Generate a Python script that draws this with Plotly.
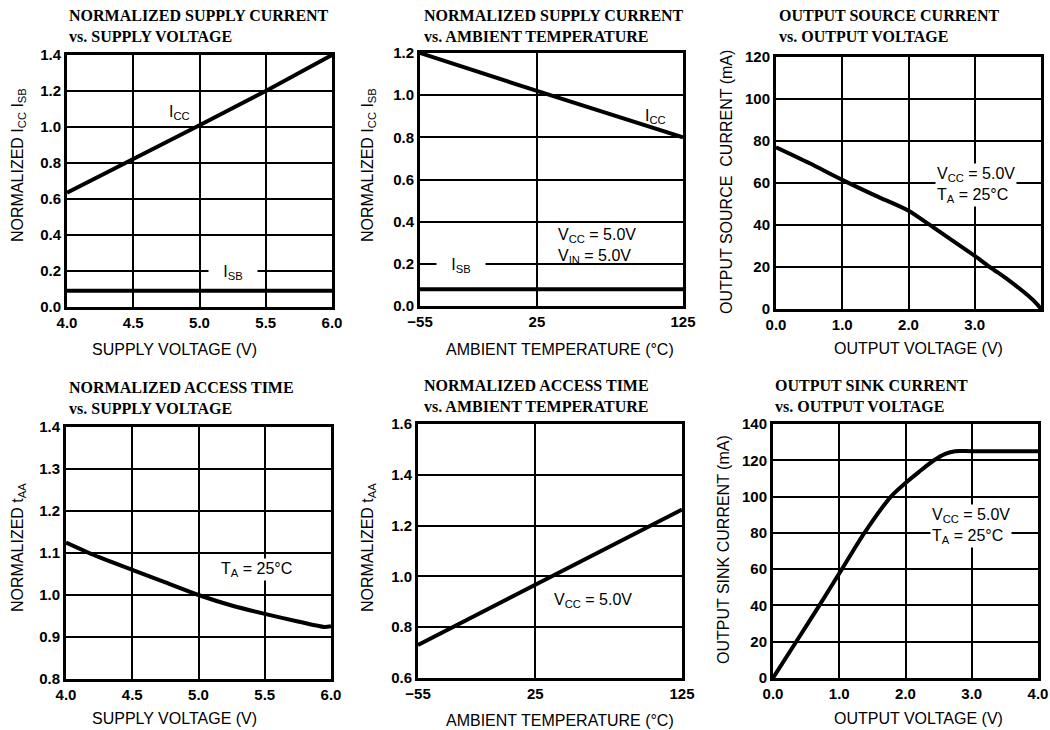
import plotly.graph_objects as go

# ---------------- data ----------------
# Panel 1: normalized supply current vs supply voltage
p1_v = [4.0, 4.5, 5.0, 5.5, 6.0]
p1_icc = [0.635, 0.82, 1.01, 1.2, 1.4]
p1_isb_v = [4.0, 6.0]
p1_isb = [0.09, 0.09]
p1_xticks = [4.0, 4.5, 5.0, 5.5, 6.0]
p1_yticks = [0.0, 0.2, 0.4, 0.6, 0.8, 1.0, 1.2, 1.4]

# Panel 2: normalized supply current vs ambient temperature
p2_t = [-55, 25, 125]
p2_icc = [1.2, 1.02, 0.8]
p2_isb_t = [-55, 125]
p2_isb = [0.08, 0.08]
p2_xticks = [-55, 25, 125]
p2_yticks = [0.0, 0.2, 0.4, 0.6, 0.8, 1.0, 1.2]

# Panel 3: output source current vs output voltage
p3_v = [0.0, 0.5, 1.0, 1.5, 2.0, 2.3, 2.6, 3.0, 3.25, 3.5, 3.8, 3.95, 4.0]
p3_i = [77, 69.5, 61.5, 54, 46.8, 40.5, 34.0, 25.3, 19.5, 14.0, 6.5, 2.0, 0.0]
p3_xticks = [0.0, 1.0, 2.0, 3.0, 4.0]
p3_yticks = [0, 20, 40, 60, 80, 100, 120]

# Panel 4: normalized access time vs supply voltage
p4_v = [4.0, 4.25, 4.5, 4.75, 5.0, 5.25, 5.5, 5.75, 5.95, 6.0]
p4_t = [1.125, 1.09, 1.06, 1.03, 1.0, 0.975, 0.955, 0.937, 0.924, 0.926]
p4_xticks = [4.0, 4.5, 5.0, 5.5, 6.0]
p4_yticks = [0.8, 0.9, 1.0, 1.1, 1.2, 1.3, 1.4]

# Panel 5: normalized access time vs ambient temperature
p5_t = [-55, 25, 125]
p5_taa = [0.73, 0.965, 1.263]
p5_xticks = [-55, 25, 125]
p5_yticks = [0.6, 0.8, 1.0, 1.2, 1.4, 1.6]

# Panel 6: output sink current vs output voltage
p6_v = [0.0, 0.35, 0.7, 1.04, 1.38, 1.78, 2.0, 2.2, 2.43, 2.6, 2.75, 3.0, 4.0]
p6_i = [0, 20, 40, 60, 80, 100, 107.5, 113.5, 120, 123.5, 125, 125, 125]
p6_xticks = [0.0, 1.0, 2.0, 3.0, 4.0]
p6_yticks = [0, 20, 40, 60, 80, 100, 120, 140]

# ---------------- layout geometry (pixels) ----------------
W, H = 1050, 730
boxes = {  # left, right, top, bottom
    1: (67, 332, 55, 307),
    2: (420, 683, 53, 306),
    3: (776, 1041, 57, 309),
    4: (66, 331, 427, 679),
    5: (418, 682, 424, 678),
    6: (773, 1038, 424, 678),
}

SANS = "Liberation Sans, Arial, sans-serif"
SERIF = "Liberation Serif, Times New Roman, serif"

fig = go.Figure()


def px_x(p):
    return p / W


def px_y(p):
    return 1 - p / H


def add_line(n, x, y, shape="linear"):
    fig.add_trace(go.Scatter(
        x=x, y=y, mode="lines",
        line=dict(color="black", width=4, shape=shape, smoothing=0.8),
        xaxis=f"x{n}", yaxis=f"y{n}", showlegend=False, hoverinfo="skip",
    ))


add_line(1, p1_v, p1_icc)
add_line(1, p1_isb_v, p1_isb)
add_line(2, p2_t, p2_icc, "spline")
add_line(2, p2_isb_t, p2_isb)
add_line(3, p3_v, p3_i, "spline")
add_line(4, p4_v, p4_t, "spline")
add_line(5, p5_t, p5_taa)
add_line(6, p6_v, p6_i, "spline")

ranges = {
    1: ((4.0, 6.0), (0.0, 1.4), p1_xticks, p1_yticks, ".1f", ".1f"),
    2: ((-55, 125), (0.0, 1.2), p2_xticks, p2_yticks, "d", ".1f"),
    3: ((0.0, 4.0), (0, 120), p3_xticks, p3_yticks, ".1f", "d"),
    4: ((4.0, 6.0), (0.8, 1.4), p4_xticks, p4_yticks, ".1f", ".1f"),
    5: ((-55, 125), (0.6, 1.6), p5_xticks, p5_yticks, "d", ".1f"),
    6: ((0.0, 4.0), (0, 140), p6_xticks, p6_yticks, ".1f", "d"),
}

tickfont = dict(family=SANS, size=15, color="black", weight=700)
layout_axes = {}
for n, (l, r, t, b) in boxes.items():
    xr, yr, xt, yt, xf, yf = ranges[n]
    common = dict(
        showgrid=True, gridcolor="black", gridwidth=2,
        showline=True, linecolor="black", linewidth=3, mirror=True,
        zeroline=False, ticks="", tickfont=tickfont, fixedrange=True,
        automargin=False,
    )
    layout_axes[f"xaxis{n}"] = dict(
        domain=[px_x(l), px_x(r)], range=list(xr), tickvals=xt,
        tickformat=xf, anchor=f"y{n}", **common,
    )
    layout_axes[f"yaxis{n}"] = dict(
        domain=[px_y(b), px_y(t)], range=list(yr), tickvals=yt,
        tickformat=yf, anchor=f"x{n}", **common,
    )

fig.update_layout(
    width=W, height=H, margin=dict(l=0, r=0, t=0, b=0, autoexpand=False),
    paper_bgcolor="white", plot_bgcolor="white", showlegend=False,
    **layout_axes,
)

ann = []
# panel titles
titles = {
    1: ("NORMALIZED SUPPLY CURRENT<br>vs. SUPPLY VOLTAGE", 67, 5),
    2: ("NORMALIZED SUPPLY CURRENT<br>vs. AMBIENT TEMPERATURE", 422, 5),
    3: ("OUTPUT SOURCE CURRENT<br>vs. OUTPUT VOLTAGE", 777, 5),
    4: ("NORMALIZED ACCESS TIME<br>vs. SUPPLY VOLTAGE", 67, 377),
    5: ("NORMALIZED ACCESS TIME<br>vs. AMBIENT TEMPERATURE", 422, 375),
    6: ("OUTPUT SINK CURRENT<br>vs. OUTPUT VOLTAGE", 773, 375),
}
for n, (txt, x, y) in titles.items():
    ann.append(dict(text=txt, x=px_x(x), y=px_y(y), xref="paper", yref="paper",
                    xanchor="left", yanchor="top", align="left", showarrow=False,
                    font=dict(family=SERIF, size=16, color="black", weight=700)))

# x axis titles
xtitles = {
    1: ("SUPPLY VOLTAGE (V)", 174, 349),
    2: ("AMBIENT TEMPERATURE (°C)", 560, 350),
    3: ("OUTPUT VOLTAGE (V)", 918, 348),
    4: ("SUPPLY VOLTAGE (V)", 174, 718),
    5: ("AMBIENT TEMPERATURE (°C)", 560, 720),
    6: ("OUTPUT VOLTAGE (V)", 918, 718),
}
for n, (txt, x, y) in xtitles.items():
    ann.append(dict(text=txt, x=px_x(x), y=px_y(y), xref="paper", yref="paper",
                    xanchor="center", yanchor="middle", showarrow=False,
                    font=dict(family=SANS, size=16, color="black")))

# y axis titles
ytitles = {
    1: ("NORMALIZED I<sub>CC</sub> I<sub>SB</sub>", 18, 165),
    2: ("NORMALIZED I<sub>CC</sub> I<sub>SB</sub>", 368, 165),
    3: ("OUTPUT SOURCE  CURRENT (mA)", 727, 182),
    4: ("NORMALIZED t<sub>AA</sub>", 18, 548),
    5: ("NORMALIZED t<sub>AA</sub>", 368, 548),
    6: ("OUTPUT SINK CURRENT (mA)", 723, 550),
}
for n, (txt, x, y) in ytitles.items():
    ann.append(dict(text=txt, x=px_x(x), y=px_y(y), xref="paper", yref="paper",
                    xanchor="center", yanchor="middle", textangle=-90, showarrow=False,
                    font=dict(family=SANS, size=16, color="black")))

# in-plot labels (data coordinates)
lab_font = dict(family=SANS, size=16, color="black")
inplot = [
    (1, "I<sub>CC</sub>", 4.85, 1.08, None),
    (1, "\u00a0\u00a0\u00a0I<sub>SB</sub>\u00a0\u00a0\u00a0", 5.25, 0.19, "white"),
    (2, "I<sub>CC</sub>", 106, 0.9, None),
    (2, "\u00a0\u00a0\u00a0I<sub>SB</sub>\u00a0\u00a0\u00a0", -27, 0.19, "white"),
    (2, "V<sub>CC</sub> = 5.0V<br>V<sub>IN</sub> = 5.0V", 66, 0.285, None),
    (3, "V<sub>CC</sub> = 5.0V<br>T<sub>A</sub> = 25°C", 3.02, 59, "white"),
    (4, "T<sub>A</sub> = 25°C", 5.44, 1.06, "white"),
    (5, "V<sub>CC</sub> = 5.0V", 64, 0.905, None),
    (6, "V<sub>CC</sub> = 5.0V<br>T<sub>A</sub> = 25°C", 2.99, 84, "white"),
]
for n, txt, x, y, bg in inplot:
    d = dict(text=txt, x=x, y=y, xref=f"x{n}", yref=f"y{n}",
             xanchor="center", yanchor="middle", align="left", showarrow=False,
             font=lab_font)
    if bg:
        d["bgcolor"] = bg
    ann.append(d)

fig.update_layout(annotations=ann)
fig.write_html(
    "out.html",
    config={"displayModeBar": False, "staticPlot": True},
    post_script="document.body.style.margin='0';document.body.style.overflow='hidden';",
)
